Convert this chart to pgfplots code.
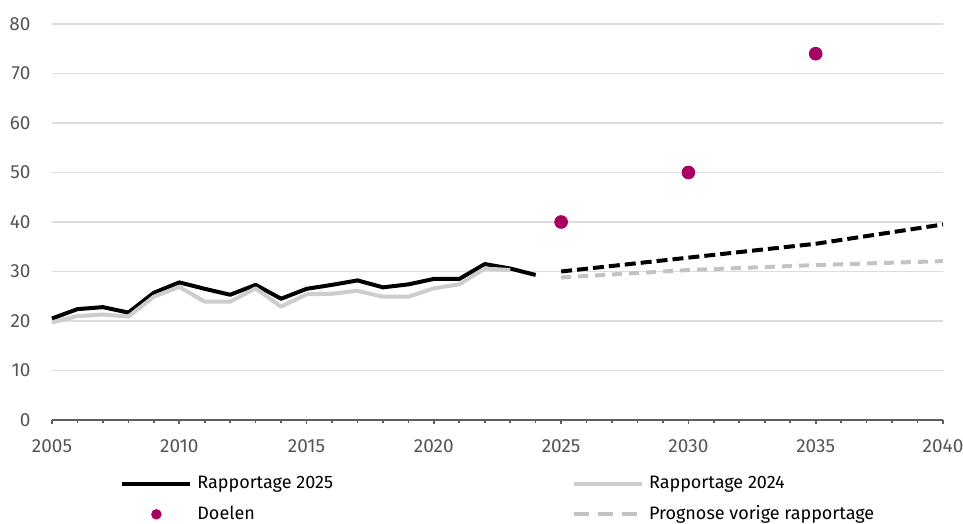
\documentclass[border=0pt]{standalone}
\usepackage{pgfplots}
\pgfplotsset{compat=1.18}
\usepackage{fontspec}
\setmainfont{Fira Sans}

\definecolor{goalviolet}{RGB}{168,0,98}
\definecolor{reportgrey}{RGB}{205,205,205}
\definecolor{forecastgrey}{RGB}{195,195,195}
\definecolor{gridgrey}{RGB}{220,220,220}
\definecolor{axisgrey}{RGB}{95,95,95}
\definecolor{labelgrey}{RGB}{85,85,85}

\begin{document}
\begin{tikzpicture}
\begin{axis}[
  scale only axis,
  width=445.5pt, height=198pt,
  xmin=2005, xmax=2040,
  ymin=0, ymax=80,
  xtick={2005,2010,...,2040},
  minor xtick={2005,...,2040},
  ytick={0,10,...,80},
  /pgf/number format/assume math mode=true,
  xticklabel style={/pgf/number format/1000 sep={}, font=\fontsize{9.5}{11}\selectfont, text=labelgrey, yshift=-4pt},
  yticklabel style={font=\fontsize{9.5}{11}\selectfont, text=labelgrey, xshift=-5pt},
  axis x line*=bottom,
  axis line style={axisgrey, line width=0.8pt},
  y axis line style={draw=none},
  x axis line style={-},
  tick style={axisgrey, line width=0.8pt},
  xtick pos=bottom,
  tick align=outside,
  major tick length=2.2pt,
  minor tick length=1.6pt,
  ytick style={draw=none},
  ymajorgrids,
  grid style={gridgrey, line width=0.9pt},
  clip=false,
  legend columns=2,
  legend cell align=left,
  legend style={
    at={(axis description cs:0,0)}, anchor=north west,
    xshift=34pt, yshift=-26pt,
    draw=none, fill=none, inner sep=0pt,
    font=\fontsize{9}{11}\selectfont,
    row sep=3pt,
    /tikz/every even column/.append style={column sep=117pt},
    nodes={inner xsep=2.5pt},
  },
  legend image code/.code={
    \draw[mark repeat=2, mark phase=2, #1]
      plot coordinates {(0pt,0pt) (17pt,0pt) (34pt,0pt)};
  },
]

% Rapportage 2025 (measured series)
\addplot[black, line width=2pt, line join=round] coordinates {
  (2005,20.5) (2006,22.4) (2007,22.8) (2008,21.7) (2009,25.7)
  (2010,27.8) (2011,26.5) (2012,25.3) (2013,27.3) (2014,24.5)
  (2015,26.5) (2016,27.3) (2017,28.2) (2018,26.8) (2019,27.4)
  (2020,28.5) (2021,28.5) (2022,31.5) (2023,30.6) (2024,29.3)
};
\addlegendentry{Rapportage 2025}

% Rapportage 2024 (previous report)
\addplot[reportgrey, line width=2pt, line join=round] coordinates {
  (2005,19.7) (2006,21.0) (2007,21.3) (2008,20.9) (2009,24.9)
  (2010,26.9) (2011,23.9) (2012,23.9) (2013,26.6) (2014,22.9)
  (2015,25.4) (2016,25.5) (2017,26.1) (2018,24.9) (2019,24.9)
  (2020,26.6) (2021,27.4) (2022,30.6) (2023,30.3)
};
\addlegendentry{Rapportage 2024}

% Targets
\addplot[only marks, mark=*, mark size=3.2pt, goalviolet,
  mark options={draw=goalviolet, fill=goalviolet},
  legend image post style={mark size=2.4pt}] coordinates {
  (2025,40) (2030,50) (2035,74)
};
\addlegendentry{Doelen}

% Forecast from the previous report
\addplot[forecastgrey, line width=2pt, dash pattern=on 5pt off 3.5pt,
  legend image post style={dash pattern=on 7.5pt off 4.5pt}] coordinates {
  (2025,28.8) (2030,30.3) (2035,31.3) (2040,32.1)
};
\addlegendentry{Prognose vorige rapportage}

% Current forecast (no legend entry)
\addplot[black, line width=2pt, dash pattern=on 5.5pt off 2.5pt, forget plot] coordinates {
  (2025,30.0) (2030,32.8) (2035,35.6) (2040,39.5)
};

\end{axis}
\pgfresetboundingbox
\useasboundingbox ([xshift=-26pt,yshift=-52pt]current axis.south west)
  rectangle ([xshift=455.5pt,yshift=210pt]current axis.south west);
\end{tikzpicture}
\end{document}
